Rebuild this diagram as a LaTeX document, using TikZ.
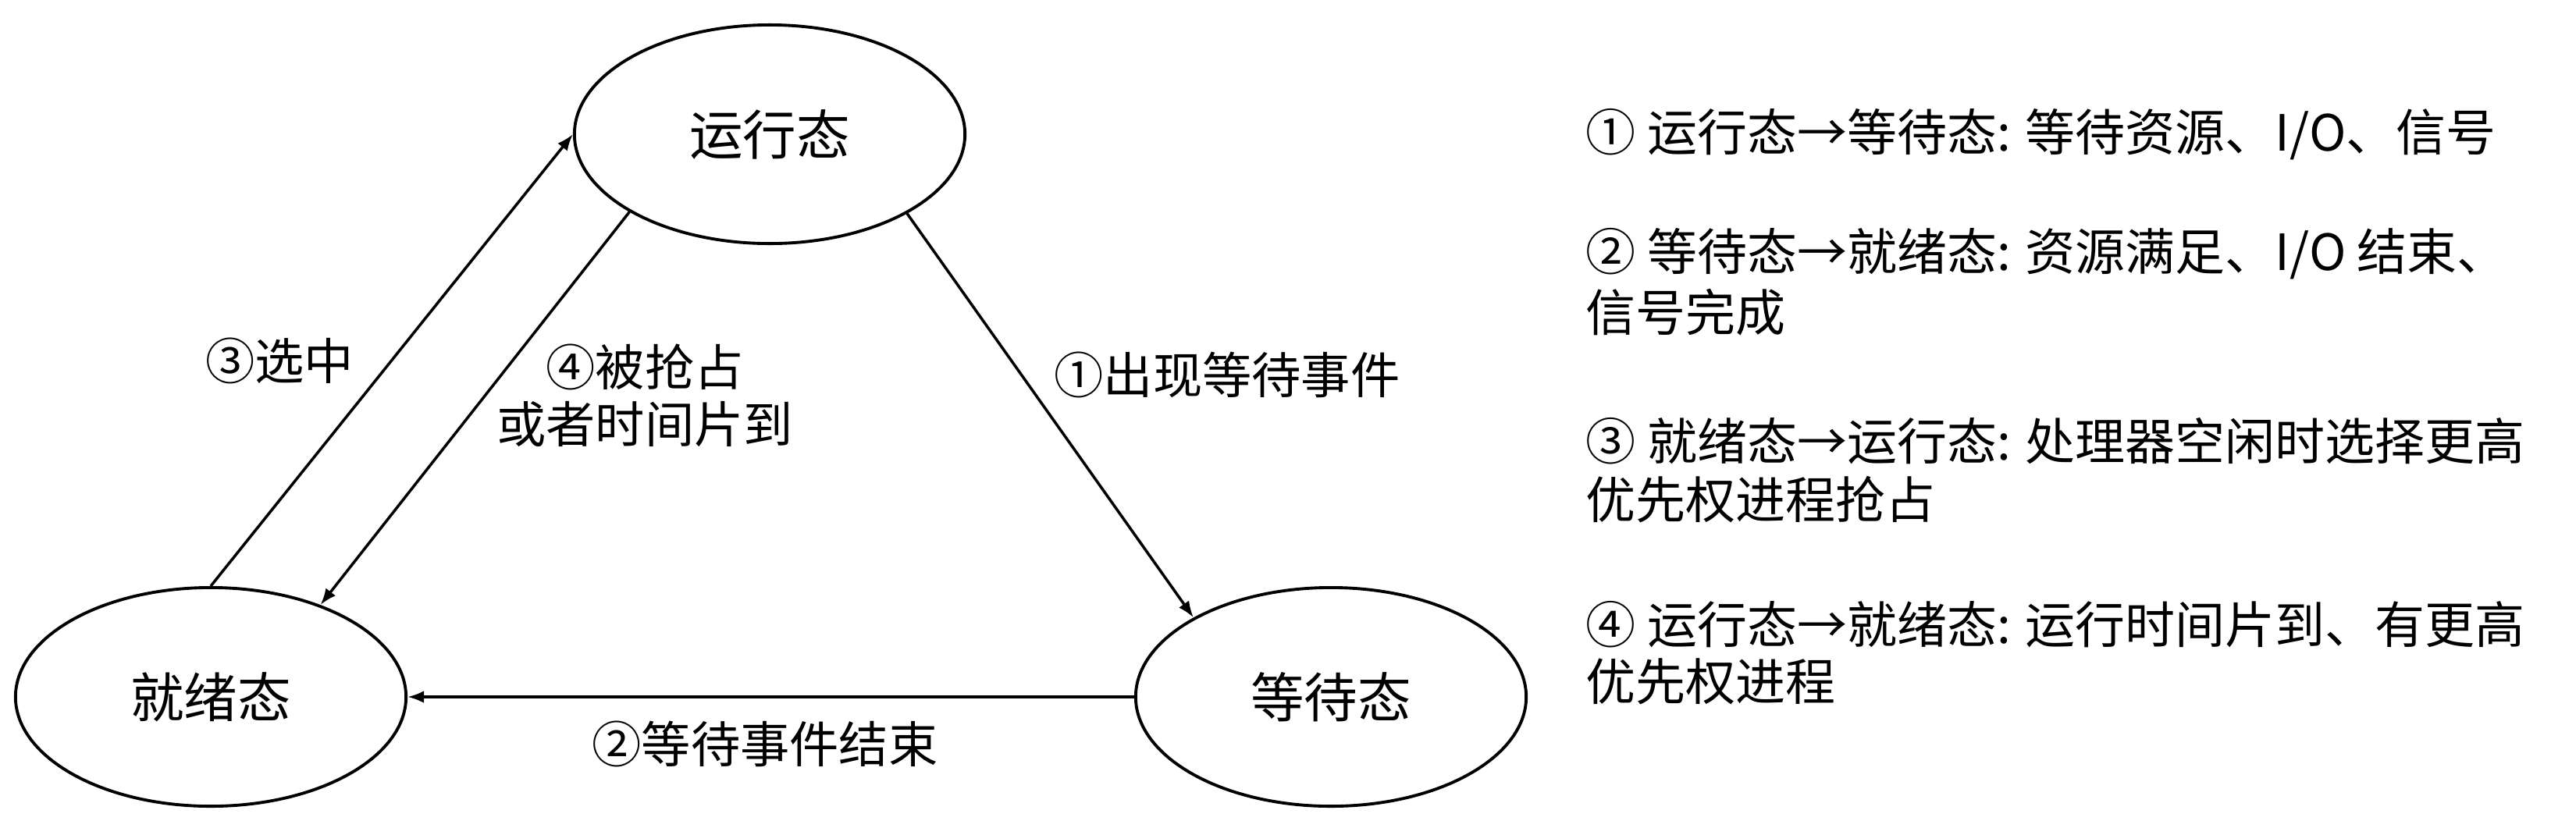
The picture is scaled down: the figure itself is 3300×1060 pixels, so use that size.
\documentclass[tikz,border=0pt]{standalone}
\usepackage{fontspec}
\setmainfont{Noto Sans CJK SC}
\usetikzlibrary{arrows.meta,shapes.geometric}
\begin{document}
\begin{tikzpicture}[x=0.01cm,y=-0.01cm,
  state/.style={ellipse,draw,line width=1.1pt,minimum width=5cm,minimum height=2.8cm,inner sep=0pt,font=\fontsize{19.5}{22}\selectfont},
  trans/.style={line width=1pt,-{Latex[length=6pt,width=4.5pt]}},
  lbl/.style={font=\fontsize{18}{20.7}\selectfont,inner sep=0pt,align=center},
  note/.style={anchor=west,inner sep=0pt,font=\fontsize{18.2}{21}\selectfont}]
\useasboundingbox (0,0) rectangle (3300,1060);
\node[state] (run) at (986,172) {运行态};
\node[state] (ready) at (270,893) {就绪态};
\node[state] (wait) at (1705,893) {等待态};
\draw[trans] (ready.north) -- (run.west);
\draw[trans] (run.209.8) -- (ready.40.8);
\draw[trans] (run.330.7) -- (wait.150.7);
\draw[trans] (wait.west) -- (ready.east);
\node[lbl] (l3) at (358,462) {③选中};
\node[lbl] (l4) at (826,507) {④被抢占\\或者时间片到};
\node[lbl] (l1) at (1572,480) {①出现等待事件};
\node[lbl] (l2) at (980,953) {②等待事件结束};
\node[note] (n1) at (2031,172) {① 运行态→等待态: 等待资源、I/O、信号};
\node[note] (n2a) at (2031,325) {② 等待态→就绪态: 资源满足、I/O 结束、};
\node[note] (n2b) at (2031,400) {信号完成};
\node[note] (n3a) at (2031,565) {③ 就绪态→运行态: 处理器空闲时选择更高};
\node[note] (n3b) at (2031,640) {优先权进程抢占};
\node[note] (n4a) at (2031,800) {④ 运行态→就绪态: 运行时间片到、有更高};
\node[note] (n4b) at (2031,873) {优先权进程};
\end{tikzpicture}
\end{document}
